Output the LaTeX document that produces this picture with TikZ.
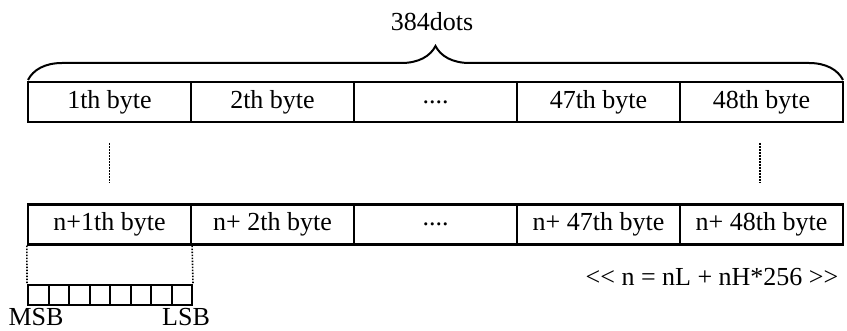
\documentclass[tikz,border=0pt]{standalone}
\usepackage{fontspec}
\setmainfont[Ligatures=NoCommon]{Liberation Serif}
\usetikzlibrary{decorations.pathreplacing}
\begin{document}
\begin{tikzpicture}[x=1pt,y=1pt,
  cell/.style={draw, line width=2.2pt, rectangle, minimum width=163pt, minimum height=40pt, inner sep=0pt, font=\fontsize{26}{30}\selectfont},
  bitcell/.style={draw, line width=2pt, rectangle, minimum width=20.5pt, minimum height=20pt, inner sep=0pt},
  lbl/.style={inner sep=0pt, font=\fontsize{26}{30}\selectfont},
  dotline/.style={line width=1.6pt, dash pattern=on 1.6pt off 1.4pt},
  bracestyle/.style={line width=2pt, decorate, decoration={brace, amplitude=34pt}}]
\useasboundingbox (0,0) rectangle (847,-331);
% top row
\node[cell] (t1) at (109.5,-102) {1th byte};
\node[cell] (t2) at (272.5,-102) {2th byte};
\node[cell] (t3) at (435.5,-102) {....};
\node[cell] (t4) at (598.5,-102) {47th byte};
\node[cell] (t5) at (761.5,-102) {48th byte};
% second row
\node[cell] (r1) at (109.5,-224.5) {n+1th byte};
\node[cell] (r2) at (272.5,-224.5) {n+ 2th byte};
\node[cell] (r3) at (435.5,-224.5) {....};
\node[cell] (r4) at (598.5,-224.5) {n+ 47th byte};
\node[cell] (r5) at (761.5,-224.5) {n+ 48th byte};
% brace
\coordinate (bl) at (28,-80);
\coordinate (br) at (843,-80);
\draw[bracestyle] (bl) -- (br);
\node[lbl] (dots) at (432,-22) {384dots};
% vertical dotted continuation
\coordinate (d1a) at (109.5,-143);
\coordinate (d1b) at (109.5,-183);
\coordinate (d2a) at (760,-143);
\coordinate (d2b) at (760,-183);
\draw[dotline] (d1a) -- (d1b);
\draw[dotline] (d2a) -- (d2b);
% bits
\foreach \i in {1,...,8} {
  \node[bitcell] (b\i) at ({28+10.25+20.5*(\i-1)},-295) {};
}
\draw[dotline] (r1.south west) -- (b1.north west);
\draw[dotline] (r1.south east) -- (b8.north east);
\node[lbl] (msb) at (36,-317) {MSB};
\node[lbl] (lsb) at (186,-317) {LSB};
\node[lbl] (formula) at (712,-277) {{<}{<} n = nL + nH*256 {>}{>}};
\end{tikzpicture}
\end{document}
